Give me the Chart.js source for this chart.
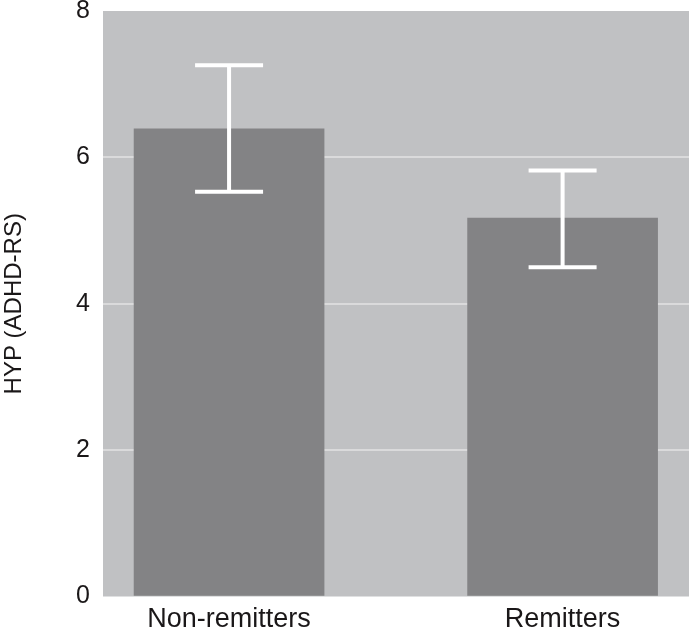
<!DOCTYPE html>
<html>
<head>
<meta charset="utf-8">
<script src="https://cdn.jsdelivr.net/npm/chart.js@4"></script>
<style>
  html, body { margin: 0; padding: 0; background: #fff; }
  #wrap { width: 689px; height: 632px; }
</style>
</head>
<body>
<div id="wrap"><canvas id="chart"></canvas></div>
<script>
    // data
    const groups = ['Non-remitters', 'Remitters'];
    const means = [6.39, 5.17];
    const errHigh = [7.26, 5.82];
    const errLow = [5.53, 4.50];
    const yTicks = [0, 2, 4, 6, 8];

    const FONT = '"Liberation Sans Narrow", "Liberation Sans", Arial, sans-serif';

    // grey panel behind the bars
    const panelBg = {
        id: 'panelBg',
        beforeDraw(chart) {
            const a = chart.chartArea;
            const ctx = chart.ctx;
            ctx.save();
            ctx.fillStyle = '#c0c1c3';
            ctx.fillRect(a.left, a.top, a.right - a.left, a.bottom - a.top);
            ctx.restore();
        }
    };

    // white error bars, positioned through the chart scales
    const errorBars = {
        id: 'errorBars',
        afterDatasetsDraw(chart) {
            const ctx = chart.ctx;
            const xs = chart.scales.x;
            const ys = chart.scales.y;
            ctx.save();
            ctx.strokeStyle = '#ffffff';
            ctx.lineWidth = 4;
            groups.forEach((g, i) => {
                const x = xs.getPixelForValue(i);
                const top = ys.getPixelForValue(errHigh[i]);
                const bot = ys.getPixelForValue(errLow[i]);
                const cap = 34;
                ctx.beginPath();
                ctx.moveTo(x, top);
                ctx.lineTo(x, bot);
                ctx.moveTo(x - cap, top);
                ctx.lineTo(x + cap, top);
                ctx.moveTo(x - cap, bot);
                ctx.lineTo(x + cap, bot);
                ctx.stroke();
            });
            ctx.restore();
        }
    };

    const ctx = document.getElementById('chart').getContext('2d');
    new Chart(ctx, {
        type: 'bar',
        data: {
            datasets: [{
                data: means.map((v, i) => ({ x: i, y: v })),
                backgroundColor: '#838385',
                borderWidth: 0,
                barThickness: 190
            }]
        },
        options: {
            responsive: true,
            maintainAspectRatio: false,
            animation: false,
            layout: { padding: { top: 11, right: 0, bottom: 0, left: 0 } },
            plugins: {
                legend: { display: false },
                tooltip: { enabled: false }
            },
            scales: {
                x: {
                    type: 'linear',
                    offset: false,
                    min: -0.378,
                    max: 1.379,
                    afterBuildTicks(scale) {
                        scale.ticks = groups.map((g, i) => ({ value: i }));
                    },
                    afterFit(scale) {
                        scale.height = 35.5;
                        scale.paddingLeft = 0;
                        scale.paddingRight = 0;
                    },
                    grid: { display: false, drawTicks: false },
                    border: { display: false },
                    ticks: {
                        autoSkip: false,
                        maxRotation: 0,
                        padding: 7,
                        color: '#1a1718',
                        font: { family: FONT, size: 27 },
                        callback: (v) => groups[v] || ''
                    }
                },
                y: {
                    min: 0,
                    max: 8,
                    afterBuildTicks(scale) {
                        scale.ticks = yTicks.map(v => ({ value: v }));
                    },
                    afterFit(scale) {
                        scale.width = 103;
                        scale.paddingTop = 0;
                        scale.paddingBottom = 0;
                    },
                    grid: {
                        color: (c) => (c.tick && c.tick.value > 0 && c.tick.value < 8) ? '#dadadb' : 'rgba(0,0,0,0)',
                        lineWidth: 2,
                        drawTicks: false
                    },
                    border: { display: false },
                    ticks: {
                        padding: 13,
                        color: '#1a1718',
                        font: { family: FONT, size: 25 }
                    },
                    title: {
                        display: true,
                        text: 'HYP (ADHD-RS)',
                        color: '#1a1718',
                        font: { family: FONT, size: 24 },
                        padding: { top: 0, bottom: 2 }
                    }
                }
            }
        },
        plugins: [panelBg, errorBars]
    });
</script>
</body>
</html>
